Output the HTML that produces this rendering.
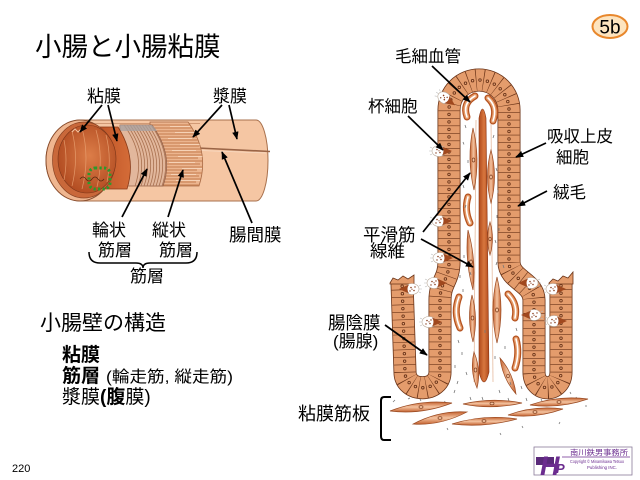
<!DOCTYPE html>
<html><head><meta charset="utf-8"><style>
html,body{margin:0;padding:0;background:#fff;}
svg{display:block;}
text{font-family:"Liberation Sans","Noto Sans CJK JP",sans-serif;fill:#000;}
</style></head><body>
<svg width="640" height="480" viewBox="0 0 640 480" xmlns="http://www.w3.org/2000/svg" xmlns:xlink="http://www.w3.org/1999/xlink">
<defs>
<marker id="ah" viewBox="0 0 10 10" refX="9" refY="5" markerWidth="8" markerHeight="8" markerUnits="userSpaceOnUse" orient="auto"><path d="M0,1 L10,5 L0,9 z" fill="#000"/></marker>
<radialGradient id="lum" cx="0.55" cy="0.45" r="0.6"><stop offset="0" stop-color="#dc7d48"/><stop offset="1" stop-color="#b04a20"/></radialGradient>
<linearGradient id="muc" x1="0" y1="0" x2="1" y2="0"><stop offset="0" stop-color="#b94e22"/><stop offset="1" stop-color="#d46c38"/></linearGradient>
<linearGradient id="spd" x1="0" y1="0" x2="1" y2="0"><stop offset="0" stop-color="#c4622f"/><stop offset="0.5" stop-color="#f4c3a0"/><stop offset="1" stop-color="#c4622f"/></linearGradient>
<linearGradient id="spdh" x1="0" y1="0" x2="0" y2="1"><stop offset="0" stop-color="#c4622f"/><stop offset="0.5" stop-color="#f4c3a0"/><stop offset="1" stop-color="#c4622f"/></linearGradient>
<linearGradient id="vess" x1="0" y1="0" x2="1" y2="0"><stop offset="0" stop-color="#b04a1c"/><stop offset="0.5" stop-color="#d8773e"/><stop offset="1" stop-color="#b04a1c"/></linearGradient>
<clipPath id="clL"><path d="M150,122 L188,122 Q210,152 199,186 L150,186 Z"/></clipPath>
<clipPath id="clC"><path d="M120,125 L152,125 Q174,155 163,186 L120,186 Z"/></clipPath>
<g id="gob">
<ellipse cx="-2" cy="0" rx="7" ry="5.5" fill="#fff" stroke="#b8a898" stroke-width="0.6"/>
<path d="M1,-4.5 L11,0 L1,4.5 Q4,0 1,-4.5Z" fill="#a0481e"/>
<circle cx="-4" cy="-1.5" r="0.8" fill="#8a4020"/><circle cx="-1" cy="1.5" r="0.8" fill="#8a4020"/><circle cx="0" cy="-2" r="0.7" fill="#8a4020"/><circle cx="-5" cy="2" r="0.7" fill="#8a4020"/><circle cx="-2" cy="-0.2" r="0.6" fill="#8a4020"/>
<path d="M-9,-3 l-2,-1 M-9.5,0 l-2.5,0 M-9,3 l-2,1" stroke="#bbb" stroke-width="0.6"/>
</g>
</defs>

<!-- Title -->
<text x="35" y="56" font-size="26.5">小腸と小腸粘膜</text>

<!-- Badge -->
<ellipse cx="610" cy="26.5" rx="17.5" ry="11.5" fill="#fde4bf" stroke="#e8872c" stroke-width="2"/>
<text x="610" y="33.5" font-size="19" text-anchor="middle">5b</text>

<!-- ===== Tube ===== -->
<path d="M82,120 L256,120 A12,40.5 0 0 1 256,201 L82,201 A36,40.5 0 0 1 82,120 Z" fill="#f5c6a3" stroke="#a8704c" stroke-width="1"/>
<line x1="86" y1="123.5" x2="200" y2="123.5" stroke="#c48a66" stroke-width="0.8"/>
<path d="M198,148 L270,151.5" fill="none" stroke="#9a6446" stroke-width="1.6"/>
<path d="M200,150.5 L266,153" fill="none" stroke="#f8dcc6" stroke-width="0.7"/>

<!-- longitudinal muscle -->
<path d="M150,122 L188,122 Q210,152 199,186 L150,186 Z" fill="#ecb58f" stroke="#a86a45" stroke-width="0.8"/>
<g clip-path="url(#clL)" stroke="#c47c4e" stroke-width="1">
<path d="M150,125H200M150,128H196M150,131H204M150,134H198M150,137H205M150,140H200M150,143H206M150,146H199M150,149H207M150,152H201M150,155H206M150,158H198M150,161H207M150,164H200M150,167H205M150,170H197M150,173H204M150,176H199M150,179H203M150,182H196M150,185H202"/>
</g>
<g clip-path="url(#clL)" stroke="#f9dcc4" stroke-width="0.8">
<path d="M170,126.5H190M175,132.5H200M168,138.5H192M180,144.5H203M172,150.5H196M178,156.5H204M169,162.5H195M182,168.5H202M171,174.5H196M176,180.5H200"/>
</g>

<!-- circular muscle -->
<path d="M120,125 L152,125 Q174,155 163,186 L120,186 Z" fill="#e2b79c" stroke="#946048" stroke-width="0.8"/>
<g clip-path="url(#clC)" fill="none" stroke="#a8704f" stroke-width="0.8">
<path d="M124,125Q146,155 135,186M127,125Q149,155 138,186M130,125Q152,155 141,186M133,125Q155,155 144,186M136,125Q158,155 147,186M139,125Q161,155 150,186M142,125Q164,155 153,186M145,125Q167,155 156,186M148,125Q170,155 159,186M151,125Q173,155 162,186"/>
</g>
<path d="M120,125 L152,125 Q155,128 157,131 L120,131 Z" fill="#a7a2a2" opacity="0.75"/>

<!-- mucosa -->
<path d="M90,127 L118,127 Q137,157 127,189 L90,189 Z" fill="url(#muc)" stroke="#8a3a18" stroke-width="0.8"/>

<!-- opening -->
<ellipse cx="80" cy="160.5" rx="34" ry="40.5" fill="#efb690" stroke="#8a4e2e" stroke-width="1"/>
<ellipse cx="84" cy="160" rx="31.5" ry="38" fill="#c9683a" stroke="#8a4424" stroke-width="0.7"/>
<ellipse cx="87" cy="159" rx="29" ry="34" fill="url(#lum)" stroke="#7a3418" stroke-width="0.6"/>
<g fill="none" stroke="#eaa374" stroke-width="0.7" opacity="0.85">
<path d="M64,140 Q68,160 64,180"/><path d="M72,131 Q79,158 72,186"/><path d="M82,128 Q90,158 82,189"/><path d="M96,130 Q104,158 97,187"/><path d="M106,135 Q112,158 107,182"/>
</g>
<path d="M72,132 l3,-3 l3,3 l3,-3" fill="none" stroke="#f3c3a0" stroke-width="1"/>
<path d="M80,179 q3,-4 6,0 t6,0 t6,0 t6,0" fill="none" stroke="#5a2a10" stroke-width="0.8"/>
<rect x="89" y="168" width="21" height="21" rx="6" fill="none" stroke="#2b9a2b" stroke-width="3" stroke-dasharray="2.2 2.3"/>

<!-- tube labels -->
<g font-size="17">
<text x="87" y="102">粘膜</text>
<text x="213" y="102">漿膜</text>
<text x="92" y="236">輪状</text>
<text x="98" y="256">筋層</text>
<text x="152" y="236">縦状</text>
<text x="159" y="256">筋層</text>
<text x="229" y="241" font-size="17.5">腸間膜</text>
<text x="130" y="282">筋層</text>
</g>
<g stroke="#000" stroke-width="1.7" fill="none" marker-end="url(#ah)">
<line x1="102" y1="105" x2="80" y2="132"/>
<line x1="108" y1="105" x2="117" y2="141"/>
<line x1="222" y1="105" x2="193" y2="137"/>
<line x1="229" y1="105" x2="237" y2="139"/>
<line x1="122" y1="217" x2="147" y2="169"/>
<line x1="168" y1="217" x2="183" y2="170"/>
<line x1="252" y1="223" x2="222" y2="152"/>
</g>
<path d="M89,252 Q89,263 100,263 L136,263 Q143,263 143,268 Q143,263 150,263 L186,263 Q197,263 197,252" fill="none" stroke="#000" stroke-width="1.5"/>

<!-- bottom-left text -->
<text x="40" y="330" font-size="21">小腸壁の構造</text>
<text x="62" y="361" font-size="19" font-weight="bold">粘膜</text>
<text x="62" y="382" font-size="19" font-weight="bold">筋層</text>
<text x="106" y="382" font-size="16" textLength="127" lengthAdjust="spacingAndGlyphs">(輪走筋, 縦走筋)</text>
<text x="62" y="403" font-size="19">漿膜<tspan font-weight="bold">(腹</tspan>膜)</text>

<text x="12" y="472" font-size="11">220</text>

<!-- ===== Villus ===== -->
<g fill="none">
<path d="M402,282 L405,372 C405,393 440,393 440,372 L440,300 C440,282 449,280 449,262 L449,110 A30,30 0 0 1 509,110 L509,262 C509,280 534,282 534,300 L534,372 C534,393 561,393 561,372 L561,282" stroke="#6b3418" stroke-width="23"/>
<path d="M402,282 L405,372 C405,393 440,393 440,372 L440,300 C440,282 449,280 449,262 L449,110 A30,30 0 0 1 509,110 L509,262 C509,280 534,282 534,300 L534,372 C534,393 561,393 561,372 L561,282" stroke="#e49c6c" stroke-width="21.4"/>
<path d="M402,282 L405,372 C405,393 440,393 440,372 L440,300 C440,282 449,280 449,262 L449,110 A30,30 0 0 1 509,110 L509,262 C509,280 534,282 534,300 L534,372 C534,393 561,393 561,372 L561,282" stroke="#6b3418" stroke-width="21.4" stroke-dasharray="0.6 6.9"/>
<path d="M402,282 L405,372 C405,393 440,393 440,372 L440,300 C440,282 449,280 449,262 L449,110 A30,30 0 0 1 509,110 L509,262 C509,280 534,282 534,300 L534,372 C534,393 561,393 561,372 L561,282" stroke="#6b3418" stroke-width="3.4" stroke-linecap="round" stroke-dasharray="0 7.5" stroke-dashoffset="-4.2"/>
<path d="M402,282 L405,372 C405,393 440,393 440,372 L440,300 C440,282 449,280 449,262 L449,110 A30,30 0 0 1 509,110 L509,262 C509,280 534,282 534,300 L534,372 C534,393 561,393 561,372 L561,282" stroke="#eaa97e" stroke-width="1.6" stroke-linecap="round" stroke-dasharray="0 7.5" stroke-dashoffset="-4.2"/>
</g>
<!-- ragged tops -->
<path d="M390,283 L393,278 L398,280 L403,276 L408,279 L414,275 L414,284 L390,284Z" fill="#e49c6c" stroke="#6b3418" stroke-width="0.8"/>
<path d="M549,283 L553,279 L558,281 L563,276 L568,278 L573,272 L573,284 L549,284Z" fill="#e49c6c" stroke="#6b3418" stroke-width="0.8"/>

<!-- goblet cells -->
<use href="#gob" xlink:href="#gob" transform="translate(446,99) rotate(35)"/>
<use href="#gob" xlink:href="#gob" transform="translate(441,151)"/>
<use href="#gob" xlink:href="#gob" transform="translate(441,221)"/>
<use href="#gob" xlink:href="#gob" transform="translate(442,258)"/>
<use href="#gob" xlink:href="#gob" transform="translate(436,283)"/>
<use href="#gob" xlink:href="#gob" transform="translate(431,322)"/>
<use href="#gob" xlink:href="#gob" transform="translate(410,289) rotate(180)"/>
<use href="#gob" xlink:href="#gob" transform="translate(529,283) rotate(180)"/>
<use href="#gob" xlink:href="#gob" transform="translate(532,315) rotate(180)"/>
<use href="#gob" xlink:href="#gob" transform="translate(555,289)"/>
<use href="#gob" xlink:href="#gob" transform="translate(556,321)"/>

<!-- central vessel -->
<path d="M476,120 L474,382" stroke="#e2b090" stroke-width="0.7"/>
<path d="M491,120 L493,382" stroke="#e2b090" stroke-width="0.7"/>
<path d="M479,118 Q482.5,100 486,118 L489,372 Q484,392 479,372 Z" fill="url(#vess)" stroke="#8a3414" stroke-width="0.6"/>

<!-- spindles -->
<g fill="url(#spd)" stroke="#9a4a22" stroke-width="0.7">
<path d="M473,128 Q480.5,159 474,190 Q466.5,159 473,128Z"/>
<path d="M491,150 Q498,176.5 491,203 Q484,176.5 491,150Z"/>
<path d="M490,222 Q495,238.5 490,255 Q485,238.5 490,222Z"/>
<path d="M468,230 Q476.5,260 473,290 Q464.5,260 468,230Z"/>
<path d="M497,277 Q505,310 497,343 Q489,310 497,277Z"/>
<path d="M472,295 Q478.5,318.5 473,342 Q466.5,318.5 472,295Z"/>
<path d="M474,352 Q481.5,370 477,388 Q469.5,370 474,352Z"/>
<path d="M500,358 Q513.5,373.6 516,394 Q502.5,378.4 500,358Z"/>
</g>
<g fill="#f4c3a0" stroke="#7a3a1a" stroke-width="0.7">
<ellipse cx="473.5" cy="160" rx="1.3" ry="2"/><ellipse cx="491" cy="177" rx="1.3" ry="2"/><ellipse cx="490" cy="239" rx="1.2" ry="1.8"/><ellipse cx="471" cy="262" rx="1.3" ry="2"/><ellipse cx="497" cy="310" rx="1.4" ry="2"/><ellipse cx="472.5" cy="318" rx="1.3" ry="2"/><ellipse cx="475.5" cy="370" rx="1.3" ry="2"/><ellipse cx="508" cy="376" rx="1.3" ry="1.8"/>
</g>
<!-- capillaries -->
<g fill="none" stroke-linecap="round">
<g stroke="#b5521f" stroke-width="7">
<path d="M475,96 Q462,103 467,117"/><path d="M488,98 Q498,107 493,121"/><path d="M468,197 Q464,210 470,223"/><path d="M459,297 Q453,312 460,328"/><path d="M508,294 Q518,304 515,318"/><path d="M516,339 Q520,353 515,368"/>
</g>
<g stroke="#e49a68" stroke-width="4.5">
<path d="M475,96 Q462,103 467,117"/><path d="M488,98 Q498,107 493,121"/><path d="M468,197 Q464,210 470,223"/><path d="M459,297 Q453,312 460,328"/><path d="M508,294 Q518,304 515,318"/><path d="M516,339 Q520,353 515,368"/>
</g>
<g stroke="#fff" stroke-width="1.6">
<path d="M475,96 Q462,103 467,117"/><path d="M488,98 Q498,107 493,121"/><path d="M468,197 Q464,210 470,223"/><path d="M459,297 Q453,312 460,328"/><path d="M508,294 Q518,304 515,318"/><path d="M516,339 Q520,353 515,368"/>
</g>
</g>

<!-- lamina dashes -->
<g stroke="#777" stroke-width="0.8">
<path d="M465,125l1,3M494,135l-1,3M468,160l0,3M496,168l1,3M463,185l1,3M497,215l0,3M466,205l-1,3M495,240l1,3M464,255l0,3M497,262l-1,3M470,272l1,3M499,228l0,3M463,142l1,2.5M498,190l0,3"/>
<path d="M458,340l1,3M462,352l0,3M466,372l1,3M458,381l-1,3M470,397l1,3M505,346l0,3M510,382l1,3M521,386l1,3M495,356l0,3M499,390l1,3M463,289l0,3M516,328l1,3M455,365l0,3M482,397l1,3M508,398l1,3M526,398l1,3M445,401l-1,3M430,404l1,2M541,399l1,2M576,397l1,2M586,405l0,2M395,400l-2,2M420,399l1,2M447,428l1,2M522,426l1,2M560,422l-1,2M500,433l1,2M485,330l0,3M503,265l1,3M460,275l0,3M410,398l-2,1M570,392l1,2M455,390l-1,3"/>
</g>

<!-- muscularis mucosae -->
<g fill="url(#spdh)" stroke="#9a4a22" stroke-width="0.7">
<path d="M390,411 Q421,399 452,403 Q421,415 390,411Z"/>
<path d="M463,404 Q492,397 522,403 Q492,410 463,404Z"/>
<path d="M530,405 Q559,395 588,399 Q559,409 530,405Z"/>
<path d="M413,424 Q440,410 467,412 Q440,426 413,424Z"/>
<path d="M452,424 Q484,414 517,419 Q484,428 452,424Z"/>
<path d="M508,415 Q535,405 563,409 Q535,419 508,415Z"/>
</g>
<g fill="#f4c3a0" stroke="#7a3a1a" stroke-width="0.7">
<ellipse cx="421" cy="407" rx="2" ry="1.3"/><ellipse cx="492" cy="403.5" rx="2" ry="1.3"/><ellipse cx="559" cy="402" rx="2" ry="1.3"/><ellipse cx="440" cy="418" rx="2" ry="1.3"/><ellipse cx="484" cy="421" rx="2" ry="1.3"/><ellipse cx="535" cy="412" rx="2" ry="1.3"/>
</g>
<path d="M391,397 L384,397 Q381,397 381,401 L381,436 Q381,440 384,440 L391,440" fill="none" stroke="#000" stroke-width="2"/>

<!-- right labels -->
<g font-size="16.5">
<text x="395" y="62">毛細血管</text>
<text x="368" y="112">杯細胞</text>
<text x="547" y="142">吸収上皮</text>
<text x="556" y="163">細胞</text>
<text x="553" y="198">絨毛</text>
<text x="363" y="241" font-size="17.5">平滑筋</text>
<text x="370" y="257" font-size="17.5">線維</text>
<text x="328" y="329" font-size="17.5">腸陰膜</text>
<text x="333" y="347" font-size="17">(腸腺)</text>
<text x="298" y="420" font-size="18">粘膜筋板</text>
</g>
<g stroke="#000" stroke-width="1.7" fill="none" marker-end="url(#ah)">
<line x1="432" y1="66" x2="470" y2="102"/>
<line x1="408" y1="116" x2="443" y2="150"/>
<line x1="546" y1="143" x2="516" y2="157"/>
<line x1="547" y1="191" x2="518" y2="206"/>
<line x1="423" y1="232" x2="470" y2="173"/>
<line x1="421" y1="239" x2="473" y2="267"/>
<line x1="385" y1="325" x2="427" y2="355"/>
</g>

<!-- logo -->
<rect x="534" y="447" width="98" height="28" fill="#fff" stroke="#8a7a9a" stroke-width="0.8"/>
<rect x="536" y="457" width="18" height="8" fill="#5a2a7a"/>
<text x="540" y="475" font-size="27" font-style="italic" font-weight="bold" style="fill:#6b2c8f">H</text>
<text x="556" y="473" font-size="13" font-style="italic" font-weight="bold" style="fill:#6b2c8f">P</text>
<text x="570" y="455" font-size="7.5" style="fill:#6b2c8f" textLength="58" lengthAdjust="spacingAndGlyphs">南川鉄男事務所</text>
<line x1="562" y1="457" x2="630" y2="457" stroke="#6b2c8f" stroke-width="0.8"/>
<text x="570" y="463" font-size="4.5" style="fill:#6b2c8f" textLength="54" lengthAdjust="spacingAndGlyphs">Copyright © Minamikawa Tetsuo</text>
<text x="587" y="469" font-size="4.5" style="fill:#6b2c8f" textLength="30" lengthAdjust="spacingAndGlyphs">Publishing INC.</text>
</svg>
</body></html>
